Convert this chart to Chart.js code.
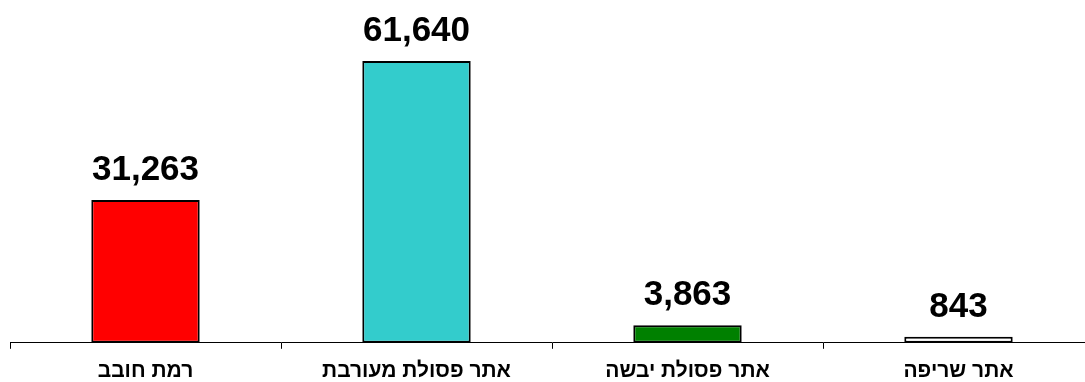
<!DOCTYPE html>
<html>
<head>
<meta charset="utf-8">
<script src="https://cdn.jsdelivr.net/npm/chart.js@4"></script>
<style>
  html, body { margin: 0; padding: 0; overflow: hidden; background: #fff; }
  #wrap { position: absolute; left: 0; top: 0; width: 1100px; height: 394px; }
</style>
</head>
<body>
<div id="wrap"><canvas id="myChart"></canvas></div>
<script>
    const labels = ['רמת חובב', 'אתר פסולת מעורבת', 'אתר פסולת יבשה', 'אתר שריפה'];
    const values = [31263, 61640, 3863, 843];
    const colors = ['#ff0000', '#33cccc', '#008000', '#ffffff'];

    // value labels over the bars
    const barLabels = {
        id: 'barLabels',
        afterDatasetsDraw(chart) {
            const ctx = chart.ctx;
            const meta = chart.getDatasetMeta(0);
            ctx.save();
            ctx.font = 'bold 35px "Liberation Sans", Arial, sans-serif';
            ctx.fillStyle = '#000';
            ctx.textAlign = 'center';
            ctx.textBaseline = 'alphabetic';
            meta.data.forEach((bar, i) => {
                ctx.fillText(values[i].toLocaleString('en-US'), bar.x, bar.y - 20);
            });
            ctx.restore();
        }
    };

    new Chart("myChart", {
        type: 'bar',
        data: {
            labels: labels,
            datasets: [{
                data: values,
                backgroundColor: colors,
                borderColor: '#000',
                borderWidth: 2,
                borderSkipped: false,
                minBarLength: 6,
                categoryPercentage: 0.4,
                barPercentage: 1
            }]
        },
        plugins: [barLabels],
        options: {
            responsive: true,
            maintainAspectRatio: false,
            animation: false,
            layout: { padding: { left: 10, right: 6, top: 0, bottom: 0 } },
            plugins: {
                legend: { display: false },
                tooltip: { enabled: false }
            },
            scales: {
                x: {
                    grid: {
                        offset: true,
                        drawOnChartArea: false,
                        tickLength: 6,
                        color: '#000'
                    },
                    border: { color: '#000', width: 1 },
                    ticks: {
                        color: '#000',
                        padding: 10,
                        maxRotation: 0,
                        font: { family: '"Liberation Sans", Arial, sans-serif', size: 21, weight: 'bold' }
                    }
                },
                y: {
                    display: false,
                    min: 0,
                    max: 75000
                }
            }
        }
    });
</script>
</body>
</html>
